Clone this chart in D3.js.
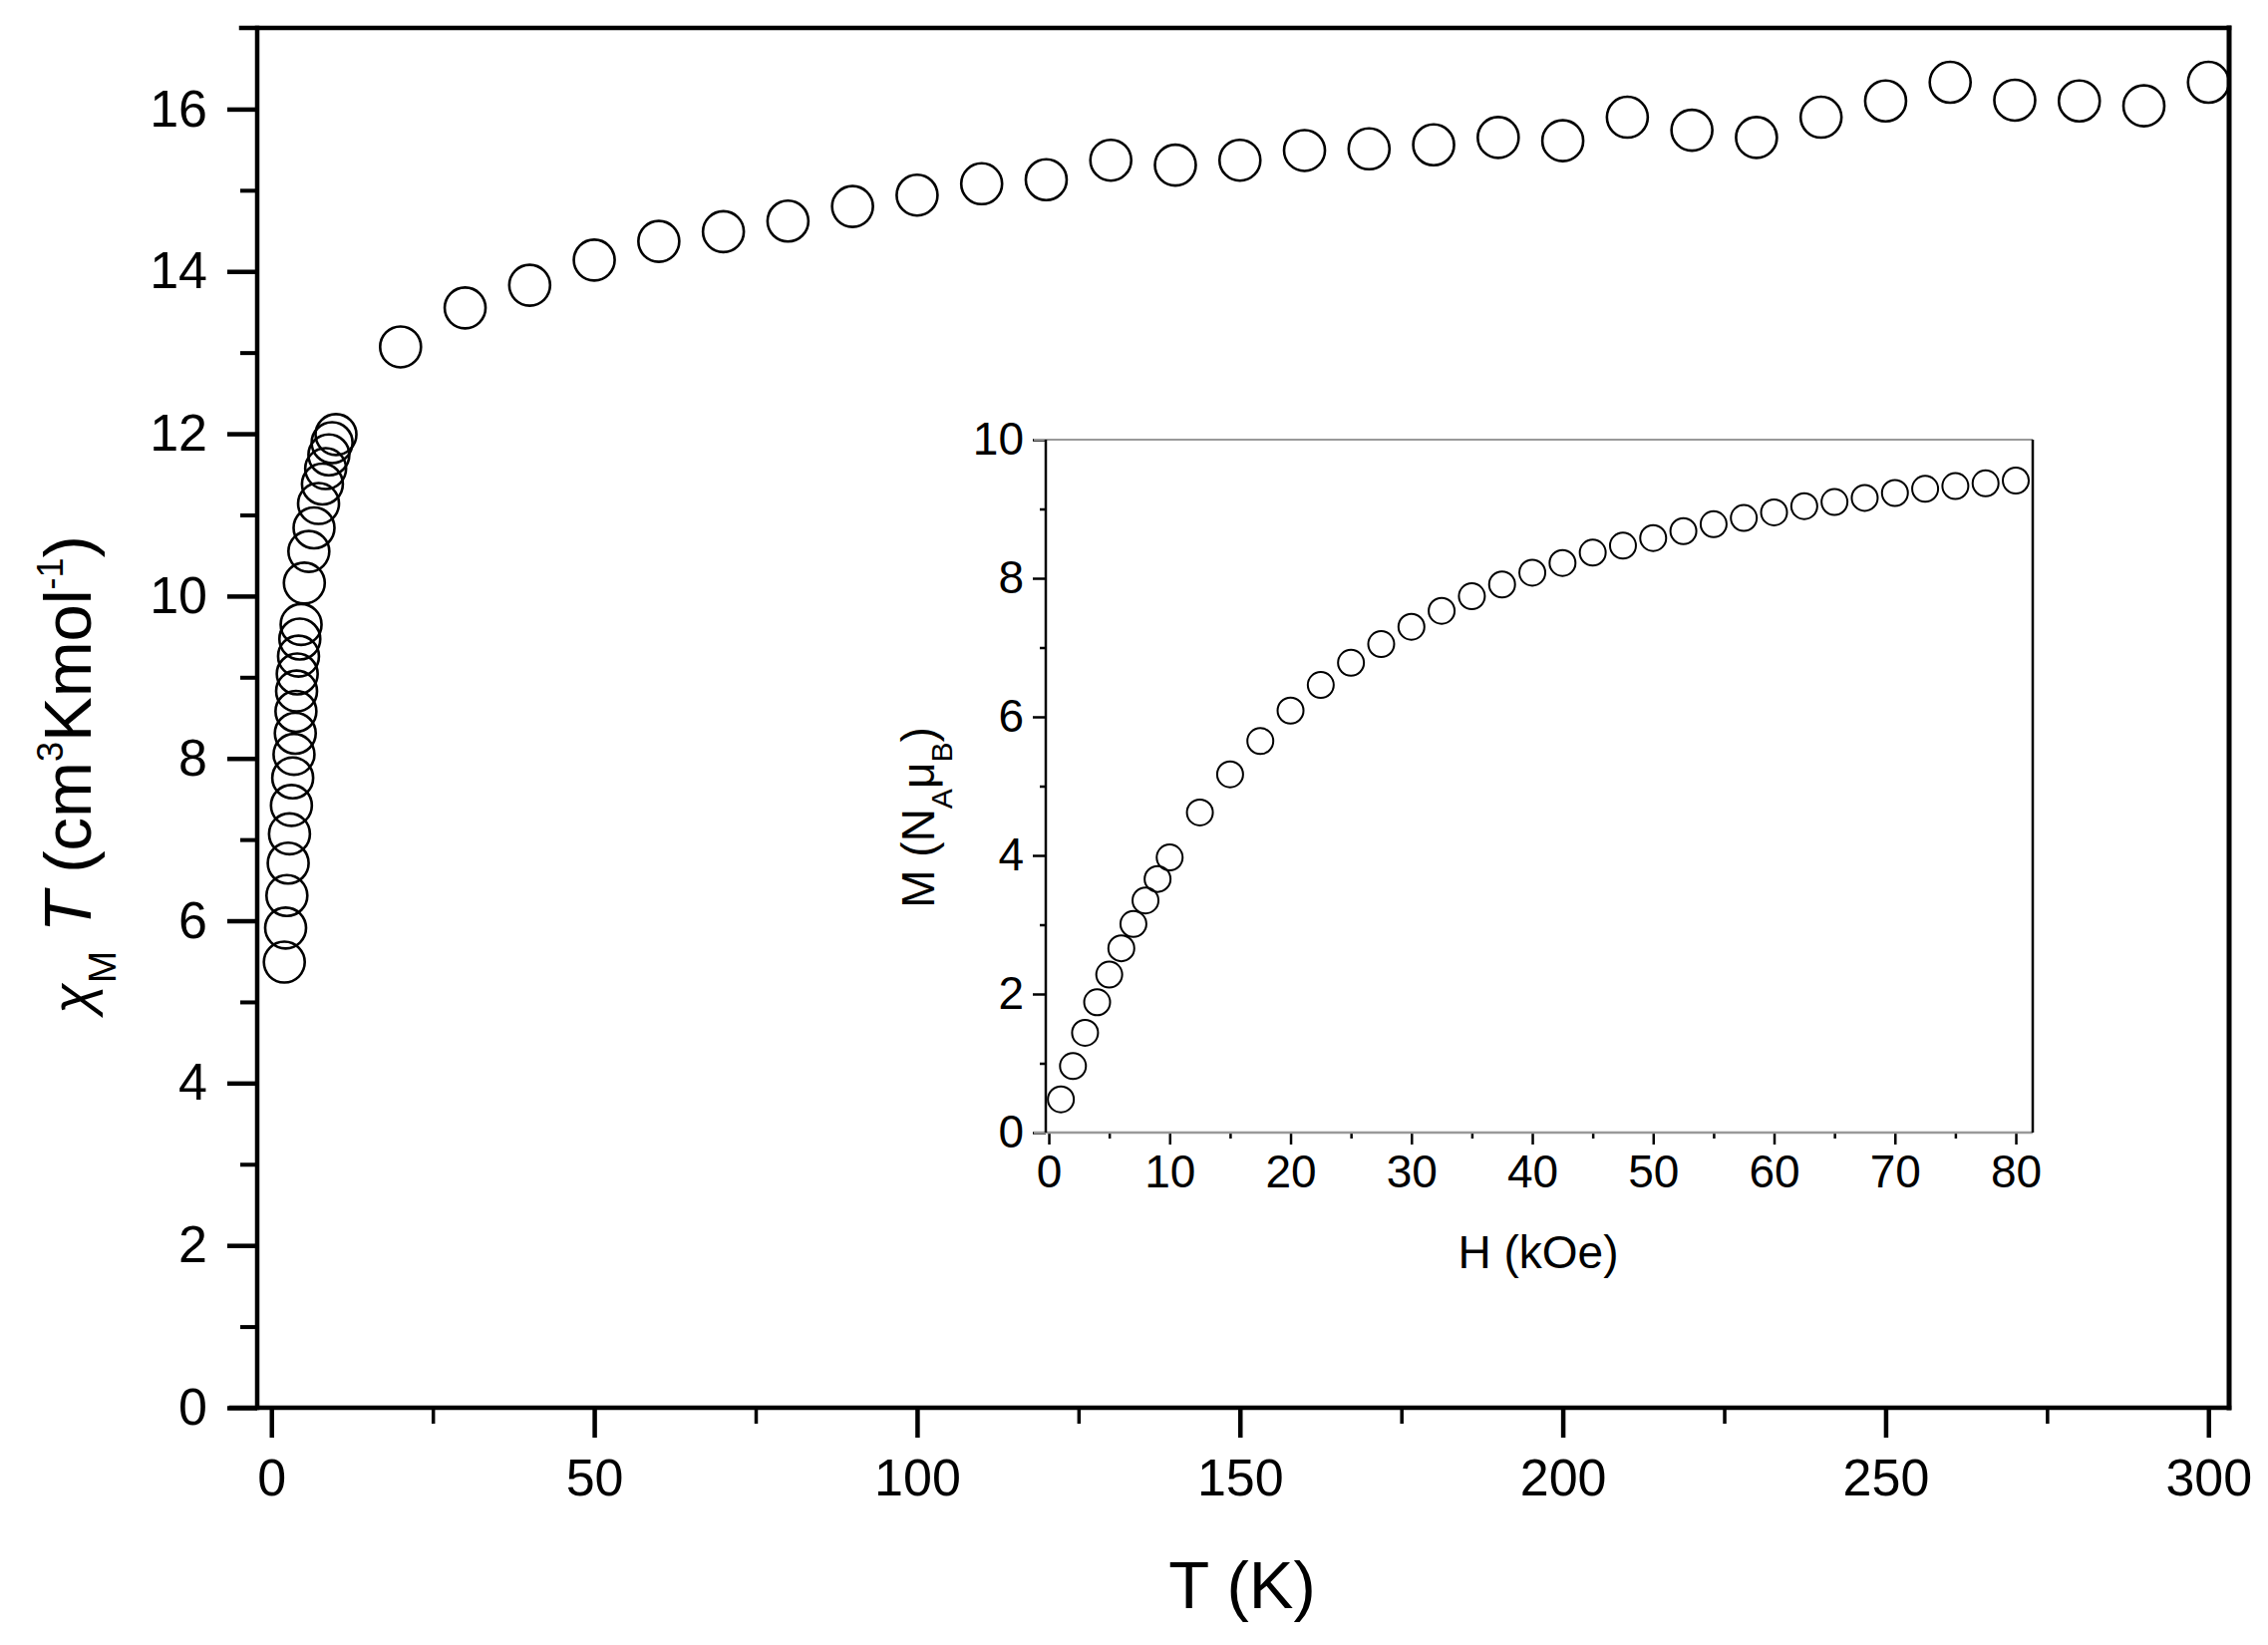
<!DOCTYPE html>
<html>
<head>
<meta charset="utf-8">
<script src="https://cdn.jsdelivr.net/npm/d3@7"></script>
<style>
body { margin: 0; background: #fff; }
text { font-family: "Liberation Sans", Arial, sans-serif; fill: #000; }
</style>
</head>
<body>
<svg width="2275" height="1650"></svg>
<script>
// main plot: chi_M T vs T
var tempLow = [2, 2.2, 2.4, 2.6, 2.8, 3.1, 3.3, 3.5, 3.7, 3.8, 3.9, 4.0, 4.2, 4.4, 4.6, 5.1, 5.8, 6.6, 7.3, 7.9, 8.4, 8.9, 9.4, 10];
var chiLow = [5.49, 5.91, 6.31, 6.71, 7.07, 7.42, 7.76, 8.05, 8.31, 8.58, 8.83, 9.04, 9.26, 9.47, 9.65, 10.16, 10.55, 10.84, 11.14, 11.38, 11.57, 11.74, 11.89, 11.99];
var tempHigh = [20, 30, 40, 50, 60, 70, 80, 90, 100, 110, 120, 130, 140, 150, 160, 170, 180, 190, 200, 210, 220, 230, 240, 250, 260, 270, 280, 290, 300];
var chiHigh = [13.07, 13.55, 13.83, 14.14, 14.37, 14.49, 14.62, 14.80, 14.94, 15.08, 15.13, 15.37, 15.31, 15.37, 15.49, 15.51, 15.56, 15.65, 15.61, 15.90, 15.74, 15.65, 15.90, 16.10, 16.33, 16.11, 16.10, 16.04, 16.33];

// inset: M vs H
var field = [1, 2, 3, 4, 5, 6, 7, 8, 9, 10, 12.5, 15, 17.5, 20, 22.5, 25, 27.5, 30, 32.5, 35, 37.5, 40, 42.5, 45, 47.5, 50, 52.5, 55, 57.5, 60, 62.5, 65, 67.5, 70, 72.5, 75, 77.5, 80];
var magnet = [0.48, 0.96, 1.44, 1.88, 2.28, 2.66, 3.01, 3.35, 3.66, 3.97, 4.62, 5.17, 5.65, 6.09, 6.46, 6.78, 7.05, 7.30, 7.53, 7.74, 7.91, 8.08, 8.22, 8.37, 8.47, 8.58, 8.68, 8.78, 8.87, 8.95, 9.04, 9.10, 9.16, 9.23, 9.29, 9.33, 9.37, 9.41];

// ticks
var mainXTicks = [0, 50, 100, 150, 200, 250, 300];
var mainXMinor = [25, 75, 125, 175, 225, 275];
var mainYTicks = [0, 2, 4, 6, 8, 10, 12, 14, 16];
var mainYMinor = [1, 3, 5, 7, 9, 11, 13, 15];
var insetXTicks = [0, 10, 20, 30, 40, 50, 60, 70, 80];
var insetXMinor = [5, 15, 25, 35, 45, 55, 65, 75];
var insetYTicks = [0, 2, 4, 6, 8, 10];
var insetYMinor = [1, 3, 5, 7, 9];

var svg = d3.select("svg");

var x = d3.scaleLinear().domain([-2.2, 303.2]).range([258, 2236]);
var y = d3.scaleLinear().domain([0, 17]).range([1412, 28]);

function styleAxis(g, width, size) {
  g.select(".domain").remove();
  g.selectAll(".tick line").attr("stroke", "#000").attr("stroke-width", width);
  g.selectAll(".tick text").attr("font-size", size);
}

// main axes
svg.append("g")
  .attr("transform", "translate(0," + y.range()[0] + ")")
  .call(d3.axisBottom(x).tickValues(mainXTicks).tickSize(30).tickPadding(21).tickFormat(d3.format("d")))
  .call(styleAxis, 4.5, 52);
svg.append("g")
  .attr("transform", "translate(0," + y.range()[0] + ")")
  .call(d3.axisBottom(x).tickValues(mainXMinor).tickSize(16).tickFormat(""))
  .call(styleAxis, 3.5, 52);
svg.append("g")
  .attr("transform", "translate(" + x.range()[0] + ",0)")
  .call(d3.axisLeft(y).tickValues(mainYTicks).tickSize(30).tickPadding(20).tickFormat(d3.format("d")))
  .call(styleAxis, 4.5, 52);
svg.append("g")
  .attr("transform", "translate(" + x.range()[0] + ",0)")
  .call(d3.axisLeft(y).tickValues(mainYMinor).tickSize(17).tickFormat(""))
  .call(styleAxis, 4, 52);

// main frame
var frame = svg.append("g").attr("stroke", "#000").attr("stroke-linecap", "square");
frame.append("line").attr("x1", 232).attr("x2", x.range()[1]).attr("y1", y.range()[0]).attr("y2", y.range()[0]).attr("stroke-width", 4.5);
frame.append("line").attr("x1", 242).attr("x2", x.range()[1]).attr("y1", y.range()[1]).attr("y2", y.range()[1]).attr("stroke-width", 4.5);
frame.append("line").attr("x1", x.range()[0]).attr("x2", x.range()[0]).attr("y1", y.range()[1]).attr("y2", y.range()[0]).attr("stroke-width", 4.5);
frame.append("line").attr("x1", x.range()[1]).attr("x2", x.range()[1]).attr("y1", y.range()[1]).attr("y2", y.range()[0]).attr("stroke-width", 5);

// main data
var mainData = tempLow.map(function(t, i) { return [t, chiLow[i]]; })
  .concat(tempHigh.map(function(t, i) { return [t, chiHigh[i]]; }));
svg.append("g").selectAll("circle")
  .data(mainData)
  .enter().append("circle")
    .attr("cx", function(d) { return x(d[0]); })
    .attr("cy", function(d) { return y(d[1]); })
    .attr("r", 20.5)
    .attr("fill", "none")
    .attr("stroke", "#000")
    .attr("stroke-width", 2.6);

// main titles
svg.append("text")
  .attr("x", 1246).attr("y", 1613)
  .attr("text-anchor", "middle")
  .attr("font-size", 67)
  .text("T (K)");

var yt = svg.append("text")
  .attr("transform", "translate(91,777) rotate(-90)")
  .attr("text-anchor", "middle")
  .attr("font-size", 67);
yt.append("tspan").attr("font-size", 56).attr("font-style", "italic").text("χ");
yt.append("tspan").attr("font-size", 39).attr("dy", 25).text("M");
yt.append("tspan").attr("dy", -25).attr("font-style", "italic").text(" T");
yt.append("tspan").text(" (cm");
yt.append("tspan").attr("font-size", 36).attr("dy", -28).text("3");
yt.append("tspan").attr("dy", 28).text("Kmol");
yt.append("tspan").attr("font-size", 36).attr("dy", -28).text("-1");
yt.append("tspan").attr("dy", 28).text(")");

// inset
var xi = d3.scaleLinear().domain([-0.25, 81.4]).range([1049, 2039]);
var yi = d3.scaleLinear().domain([0, 10]).range([1136, 441]);

svg.append("g")
  .attr("transform", "translate(0," + yi.range()[0] + ")")
  .call(d3.axisBottom(xi).tickValues(insetXTicks).tickSize(12).tickPadding(10).tickFormat(d3.format("d")))
  .call(styleAxis, 2.5, 46);
svg.append("g")
  .attr("transform", "translate(0," + yi.range()[0] + ")")
  .call(d3.axisBottom(xi).tickValues(insetXMinor).tickSize(6).tickFormat(""))
  .call(styleAxis, 2.5, 46);
svg.append("g")
  .attr("transform", "translate(" + xi.range()[0] + ",0)")
  .call(d3.axisLeft(yi).tickValues(insetYTicks).tickSize(13).tickPadding(9).tickFormat(d3.format("d")))
  .call(styleAxis, 2.5, 46);
svg.append("g")
  .attr("transform", "translate(" + xi.range()[0] + ",0)")
  .call(d3.axisLeft(yi).tickValues(insetYMinor).tickSize(6).tickFormat(""))
  .call(styleAxis, 2.5, 46);

var iframe = svg.append("g");
iframe.append("line").attr("x1", 1037).attr("x2", xi.range()[1]).attr("y1", yi.range()[0]).attr("y2", yi.range()[0]).attr("stroke", "#999").attr("stroke-width", 2.5);
iframe.append("line").attr("x1", 1037).attr("x2", xi.range()[1]).attr("y1", yi.range()[1]).attr("y2", yi.range()[1]).attr("stroke", "#999").attr("stroke-width", 2);
iframe.append("line").attr("x1", xi.range()[0]).attr("x2", xi.range()[0]).attr("y1", yi.range()[1]).attr("y2", yi.range()[0]).attr("stroke", "#000").attr("stroke-width", 2.5);
iframe.append("line").attr("x1", xi.range()[1]).attr("x2", xi.range()[1]).attr("y1", yi.range()[1]).attr("y2", yi.range()[0]).attr("stroke", "#000").attr("stroke-width", 2.5);

svg.append("g").selectAll("circle")
  .data(field)
  .enter().append("circle")
    .attr("cx", function(d) { return xi(d); })
    .attr("cy", function(d, i) { return yi(magnet[i]); })
    .attr("r", 13)
    .attr("fill", "none")
    .attr("stroke", "#000")
    .attr("stroke-width", 2);

svg.append("text")
  .attr("x", 1543).attr("y", 1272)
  .attr("text-anchor", "middle")
  .attr("font-size", 46)
  .text("H (kOe)");

var it = svg.append("text")
  .attr("transform", "translate(937,820) rotate(-90)")
  .attr("text-anchor", "middle")
  .attr("font-size", 46);
it.append("tspan").text("M (N");
it.append("tspan").attr("font-size", 30).attr("dy", 18).text("A");
it.append("tspan").attr("dy", -18).text("μ");
it.append("tspan").attr("font-size", 30).attr("dy", 18).text("B");
it.append("tspan").attr("dy", -18).text(")");
</script>
</body>
</html>
